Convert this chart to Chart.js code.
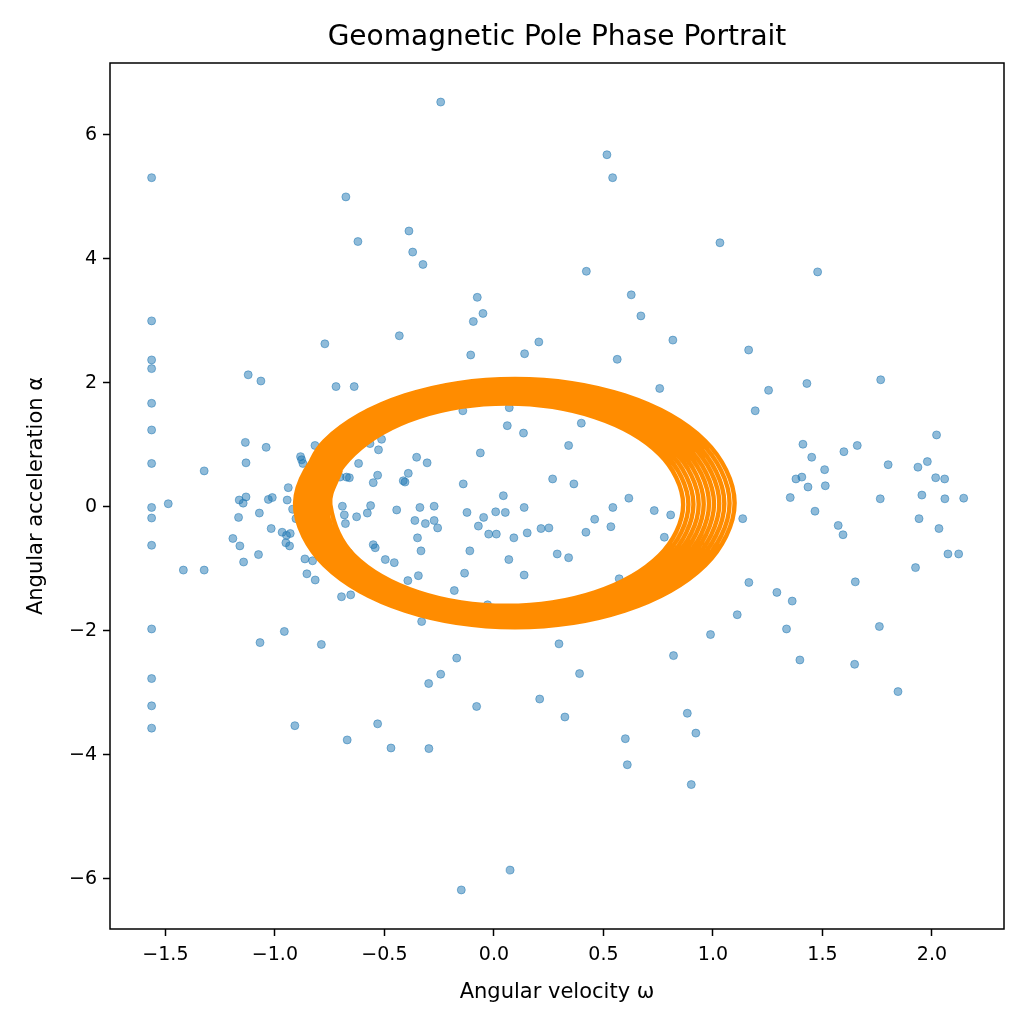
<!DOCTYPE html>
<html>
<head>
<meta charset="utf-8">
<title>Geomagnetic Pole Phase Portrait</title>
<script src="https://cdn.jsdelivr.net/npm/chart.js@4.4.0/dist/chart.umd.min.js"></script>
<style>
  html, body { margin: 0; padding: 0; background: #ffffff; }
  #wrap { width: 1030px; height: 1030px; }
</style>
</head>
<body>
<div id="wrap"><canvas id="phaseChart" width="1030" height="1030"></canvas></div>
<script>
const omegaPts = [
  -1.563, -0.676, -0.621, -0.388, -0.371, -0.324, -0.243, 0.516, 0.542, 0.422, 1.032, 1.478,
  -1.563, -1.563, -1.563, -1.563, -1.563, -1.563, -0.772, -0.432, -1.122, -1.064, -0.721, -0.638,
  -1.135, -1.040, -1.132, -1.323, -0.883, -0.878, -0.872, -0.817, -0.566, -0.513, -0.527, -0.618,
  -0.531, -0.551, -0.391, -0.414, -0.406, -0.703, -0.673, -0.660, -0.939,
  -1.563, -1.563, -1.563, -1.563, -1.563, -1.563, -1.487, -1.418, -1.323, -1.163, -1.145, -1.132,
  -1.166, -1.071, -1.192, -1.160, -1.075, -1.143, -1.030, -1.012, -0.944, -1.017, -0.967, -0.947,
  -0.930, -0.950, -0.933, -0.919, -0.904, -0.863, -0.828, -0.854, -0.816, -0.696, -0.654, -1.068,
  -0.957, -0.788, -0.692, -0.683, -0.678, -0.627, -0.578, -0.563, -0.444, -0.551, -0.542, -0.664,
  -0.496, -0.455, -0.393,
  -0.076, -0.050, -0.094, -0.106, 0.140, 0.205, 0.627, 0.671, 0.817, 0.563, 0.757, -0.142,
  0.070, 0.061, 0.135, 0.399, 0.341, 0.839, -0.062, -0.353, -0.305, -0.140, 0.268, 0.365,
  0.043, 0.616,
  -0.338, -0.273, -0.361, -0.313, -0.273, -0.257, -0.349, -0.333, -0.345, -0.123, -0.047, -0.071,
  0.008, 0.052, 0.138, -0.024, 0.011, 0.091, 0.152, 0.215, 0.251, -0.110, 0.068, 0.289,
  0.341, -0.134, 0.138, -0.181, -0.029, -0.330, 0.420, 0.460, 0.534, 0.543, 0.732, 0.807,
  0.778, 0.572, 0.297, -0.170, -0.243, -0.298, 0.391, 0.820, -0.079, 0.209, 0.324, 0.883,
  -1.563, -0.909, -0.670, -0.531, -0.470, -0.297, 0.600, 0.609, 0.922, 0.901, 0.074, -0.149,
  1.163, 1.254, 1.193, 1.429, 1.766, 1.411, 1.451, 1.510, 1.598, 1.659, 1.800, 2.021,
  1.936, 1.979, 2.017, 2.058, 1.379, 1.406, 1.434, 1.513, 1.353, 1.764, 1.954, 2.059,
  2.145,
  1.136, 1.466, 1.572, 1.594, 1.941, 2.032, 2.073, 2.122, 1.925, 1.164, 1.292, 1.362,
  1.650, 1.111, 0.989, 1.336, 1.760, 1.397, 1.647, 1.845
];
const alphaPts = [
  5.31, 5.00, 4.28, 4.45, 4.11, 3.91, 6.53, 5.68, 5.31, 3.80, 4.26, 3.79,
  3.00, 2.37, 2.23, 1.67, 1.24, 0.70, 2.63, 2.76, 2.13, 2.03, 1.94, 1.94,
  1.04, 0.96, 0.71, 0.58, 0.81, 0.76, 0.70, 0.99, 1.02, 1.09, 0.92, 0.70,
  0.51, 0.39, 0.54, 0.42, 0.40, 0.48, 0.48, 0.47, 0.31,
  -0.01, -0.18, -0.62, -1.97, -2.77, -3.21, 0.05, -1.02, -1.02, 0.11, 0.06, 0.16,
  -0.17, -0.10, -0.51, -0.63, -0.77, -0.89, 0.12, 0.15, 0.11, -0.35, -0.41, -0.46,
  -0.43, -0.58, -0.63, -0.04, -0.19, -0.84, -0.87, -1.08, -1.18, -1.45, -1.42, -2.19,
  -2.01, -2.22, 0.01, -0.13, -0.27, -0.16, -0.10, 0.02, -0.05, -0.61, -0.66, -0.74,
  -0.85, -0.90, -1.19,
  3.38, 3.12, 2.99, 2.45, 2.47, 2.66, 3.42, 3.08, 2.69, 2.38, 1.91, 1.55,
  1.60, 1.31, 1.19, 1.35, 0.99, 1.31, 0.87, 0.80, 0.71, 0.37, 0.45, 0.37,
  0.18, 0.14,
  -0.01, 0.01, -0.22, -0.27, -0.22, -0.34, -0.50, -0.71, -1.11, -0.09, -0.17, -0.31,
  -0.08, -0.09, -0.01, -0.44, -0.44, -0.50, -0.42, -0.35, -0.34, -0.71, -0.85, -0.76,
  -0.82, -1.07, -1.10, -1.35, -1.58, -1.85, -0.41, -0.20, -0.32, -0.01, -0.06, -0.13,
  -0.49, -1.16, -2.21, -2.44, -2.70, -2.85, -2.69, -2.40, -3.22, -3.10, -3.39, -3.33,
  -3.57, -3.53, -3.76, -3.50, -3.89, -3.90, -3.74, -4.16, -3.65, -4.48, -5.86, -6.18,
  2.53, 1.88, 1.55, 1.99, 2.05, 1.01, 0.80, 0.60, 0.89, 0.99, 0.68, 1.16,
  0.64, 0.73, 0.47, 0.45, 0.45, 0.48, 0.32, 0.34, 0.15, 0.13, 0.19, 0.13,
  0.14,
  -0.19, -0.07, -0.30, -0.45, -0.19, -0.35, -0.76, -0.76, -0.98, -1.22, -1.38, -1.52,
  -1.21, -1.74, -2.06, -1.97, -1.93, -2.47, -2.54, -2.98
];

// ---- trajectory spiral: one row per turn, 12 samples each, starting on the left ----
const spiralOmega = [
  [-0.699, -0.747, -0.639, -0.344, 0.059, 0.461, 0.756, 0.864, 0.756, 0.461, 0.059, -0.344, -0.639],
  [-0.763, -0.652, -0.350, 0.063, 0.475, 0.777, 0.888, 0.777, 0.475, 0.063, -0.350, -0.652],
  [-0.779, -0.666, -0.357, 0.066, 0.489, 0.798, 0.911, 0.798, 0.489, 0.066, -0.357, -0.666],
  [-0.795, -0.679, -0.363, 0.070, 0.503, 0.819, 0.935, 0.819, 0.503, 0.070, -0.363, -0.679],
  [-0.811, -0.693, -0.369, 0.074, 0.516, 0.840, 0.958, 0.840, 0.516, 0.074, -0.369, -0.693],
  [-0.828, -0.707, -0.376, 0.077, 0.530, 0.861, 0.982, 0.861, 0.530, 0.077, -0.376, -0.707],
  [-0.844, -0.720, -0.382, 0.081, 0.543, 0.881, 1.005, 0.881, 0.543, 0.081, -0.382, -0.720],
  [-0.860, -0.733, -0.388, 0.085, 0.557, 0.902, 1.029, 0.902, 0.557, 0.085, -0.388, -0.733],
  [-0.876, -0.747, -0.394, 0.088, 0.570, 0.923, 1.052, 0.923, 0.570, 0.088, -0.394, -0.747],
  [-0.892, -0.760, -0.400, 0.092, 0.584, 0.944, 1.076, 0.944, 0.584, 0.092, -0.400, -0.760],
  [-0.908, -0.774, -0.406, 0.096, 0.597, 0.965, 1.099, 0.965, 0.597, 0.096, -0.406, -0.774, -0.908]
];
const spiralAlpha = [
  [0.592, 0.035, -0.781, -1.378, -1.596, -1.378, -0.781, 0.035, 0.850, 1.447, 1.665, 1.447, 0.850],
  [0.037, -0.797, -1.408, -1.631, -1.408, -0.797, 0.037, 0.871, 1.482, 1.705, 1.482, 0.871],
  [0.040, -0.813, -1.437, -1.665, -1.437, -0.813, 0.040, 0.893, 1.517, 1.745, 1.517, 0.893],
  [0.043, -0.829, -1.467, -1.700, -1.467, -0.829, 0.043, 0.914, 1.552, 1.785, 1.552, 0.914],
  [0.045, -0.845, -1.497, -1.735, -1.497, -0.845, 0.045, 0.935, 1.587, 1.825, 1.587, 0.935],
  [0.048, -0.861, -1.527, -1.770, -1.527, -0.861, 0.048, 0.956, 1.622, 1.865, 1.622, 0.956],
  [0.051, -0.877, -1.556, -1.804, -1.556, -0.877, 0.051, 0.978, 1.657, 1.905, 1.657, 0.978],
  [0.053, -0.893, -1.586, -1.839, -1.586, -0.893, 0.053, 0.999, 1.692, 1.945, 1.692, 0.999],
  [0.056, -0.909, -1.616, -1.874, -1.616, -0.909, 0.056, 1.020, 1.727, 1.985, 1.727, 1.020],
  [0.059, -0.925, -1.645, -1.908, -1.645, -0.925, 0.059, 1.042, 1.762, 2.025, 1.762, 1.042],
  [0.061, -0.941, -1.675, -1.943, -1.675, -0.941, 0.061, 1.063, 1.797, 2.065, 1.797, 1.063, 0.061]
];

const omegaTicks = [-1.5, -1.0, -0.5, 0.0, 0.5, 1.0, 1.5, 2.0];
const alphaTicks = [-6, -4, -2, 0, 2, 4, 6];
const omegaRange = [-1.753, 2.329];
const alphaRange = [-6.81, 7.16];

const FONT = "'DejaVu Sans', sans-serif";

const fmt = (v, digits) => {
    const s = Math.abs(v) < 1e-9 ? (0).toFixed(digits) : v.toFixed(digits);
    return s.replace('-', '\u2212');
};

// matplotlib style box round the axes
const frame = {
    id: 'frame',
    afterDatasetsDraw(chart) {
        const { ctx, chartArea: a } = chart;
        ctx.save();
        ctx.strokeStyle = '#000';
        ctx.lineWidth = 1.5;
        ctx.strokeRect(a.left, a.top, a.right - a.left, a.bottom - a.top);
        ctx.restore();
    }
};

const spiralData = [];
spiralOmega.forEach((row, i) => {
    row.forEach((x, j) => spiralData.push({ x: x, y: spiralAlpha[i][j] }));
});

const spiralSet = {
    type: 'scatter',
    data: spiralData,
    showLine: true,
    borderColor: '#ff8c00',
    borderWidth: 4.4,
    borderJoinStyle: 'round',
    tension: 0.35,
    pointRadius: 0,
    order: 0
};

const scatterSet = {
    type: 'scatter',
    data: omegaPts.map((x, i) => ({ x: x, y: alphaPts[i] })),
    backgroundColor: 'rgba(31, 119, 180, 0.5)',
    borderColor: 'rgba(31, 119, 180, 0.5)',
    borderWidth: 1,
    pointRadius: 4,
    order: 1
};

new Chart(document.getElementById('phaseChart'), {
    type: 'scatter',
    data: { datasets: [spiralSet, scatterSet] },
    options: {
        responsive: false,
        animation: false,
        layout: { padding: { left: 0, right: 26, top: 0, bottom: 0 } },
        plugins: {
            legend: { display: false },
            tooltip: { enabled: false },
            title: {
                display: true,
                fullSize: false,
                text: 'Geomagnetic Pole Phase Portrait',
                color: '#000',
                font: { family: FONT, size: 28, weight: 'normal' },
                padding: { top: 21, bottom: 8.4 }
            }
        },
        scales: {
            x: {
                type: 'linear',
                min: omegaRange[0],
                max: omegaRange[1],
                afterBuildTicks: (scale) => { scale.ticks = omegaTicks.map(v => ({ value: v })); },
                afterFit: (scale) => { scale.height = 101; },
                grid: { drawOnChartArea: false, drawTicks: true, tickLength: 7, tickWidth: 1.5, tickColor: '#000' },
                border: { display: false },
                ticks: {
                    color: '#000',
                    font: { family: FONT, size: 19 },
                    padding: 8,
                    maxRotation: 0,
                    autoSkip: false,
                    callback: (v) => fmt(v, 1)
                },
                title: {
                    display: true,
                    text: 'Angular velocity \u03c9',
                    color: '#000',
                    font: { family: FONT, size: 21 },
                    padding: { top: 4, bottom: 25 }
                }
            },
            y: {
                type: 'linear',
                min: alphaRange[0],
                max: alphaRange[1],
                afterBuildTicks: (scale) => { scale.ticks = alphaTicks.map(v => ({ value: v })); },
                afterFit: (scale) => { scale.width = 110; },
                grid: { drawOnChartArea: false, drawTicks: true, tickLength: 7, tickWidth: 1.5, tickColor: '#000' },
                border: { display: false },
                ticks: {
                    color: '#000',
                    font: { family: FONT, size: 19 },
                    padding: 6,
                    autoSkip: false,
                    callback: (v) => fmt(v, 0)
                },
                title: {
                    display: true,
                    text: 'Angular acceleration \u03b1',
                    color: '#000',
                    font: { family: FONT, size: 21 },
                    padding: { top: 24, bottom: 4 }
                }
            }
        }
    },
    plugins: [frame]
});
</script>
</body>
</html>
